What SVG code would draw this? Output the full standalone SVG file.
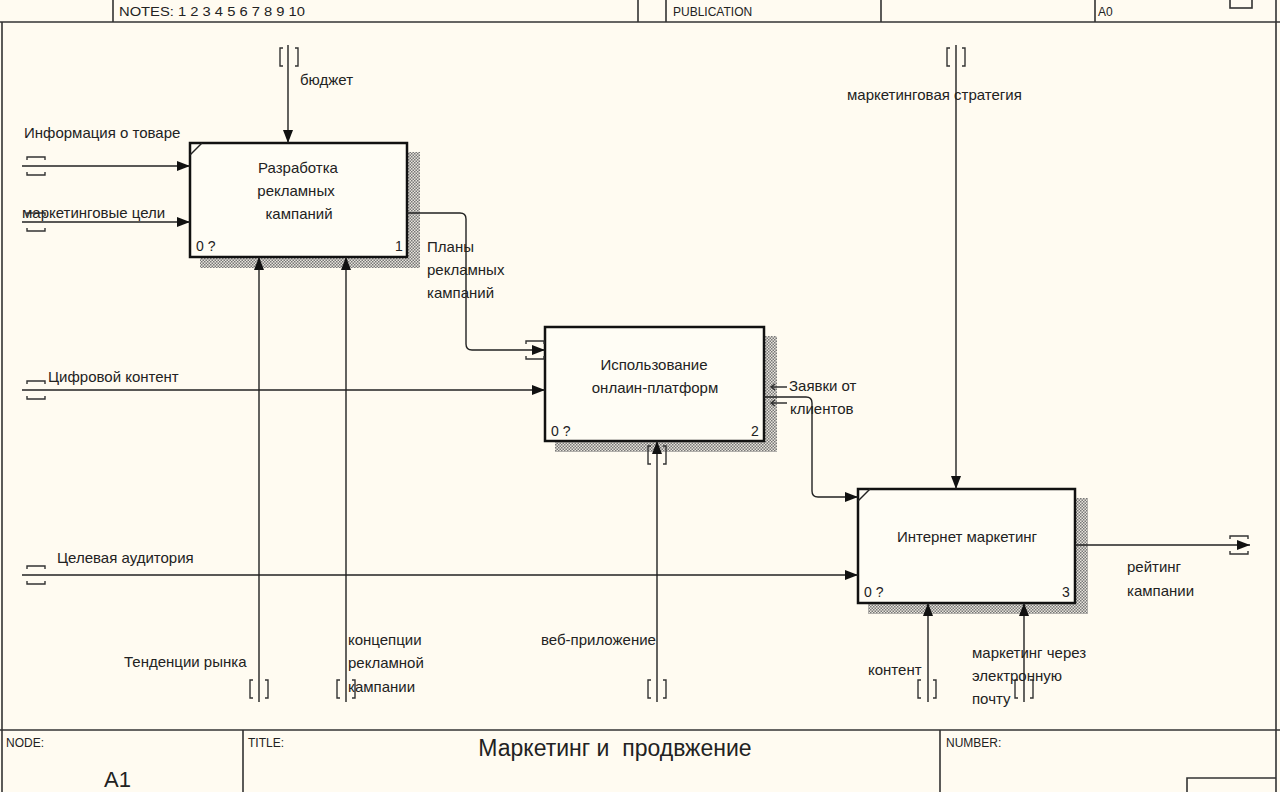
<svg xmlns="http://www.w3.org/2000/svg" width="1280" height="792" viewBox="0 0 1280 792">
<style>
text{font-family:"Liberation Sans",Arial,sans-serif;fill:#222}
.lbl{font-size:15px}
.box{fill:#fffdf5;stroke:#111;stroke-width:2.5}
.sh{fill:url(#hatch)}
.frame{stroke:#333;stroke-width:1.6;fill:none}
.ln{stroke:#222;stroke-width:1.4;fill:none}
.tn{stroke:#333;stroke-width:1.4;fill:none}
.small{font-size:12px}
.num{font-size:14px}
</style>
<defs>
<pattern id="hatch" width="3" height="3" patternUnits="userSpaceOnUse">
<rect width="3" height="3" fill="#e8e4dc"/>
<rect width="1.5" height="1.5" fill="#777"/>
<rect x="1.5" y="1.5" width="1.5" height="1.5" fill="#777"/>
</pattern>
<marker id="arr" viewBox="0 0 13 10" refX="13" refY="5" markerWidth="13" markerHeight="10" markerUnits="userSpaceOnUse" orient="auto">
<path d="M0,0 L13,5 L0,10 Z" fill="#111"/>
</marker>
<path id="th" d="M-9,-6 v-3 h18 v3 M-9,6 v3 h18 v-3"/>
<path id="tv" d="M-6,-9 h-3 v18 h3 M6,-9 h3 v18 h-3"/>
</defs>
<rect width="1280" height="792" fill="#fffbf1"/>
<g id="frame">
<line class="frame" x1="0" y1="22" x2="1280" y2="22"/>
<line class="frame" x1="113" y1="0" x2="113" y2="22"/>
<line class="frame" x1="638" y1="0" x2="638" y2="22"/>
<line class="frame" x1="666" y1="0" x2="666" y2="22"/>
<line class="frame" x1="881" y1="0" x2="881" y2="22"/>
<line class="frame" x1="1095" y1="0" x2="1095" y2="22"/>
<rect class="frame" x="1230" y="-2" width="22" height="10"/>
<line class="frame" x1="2" y1="22" x2="2" y2="792"/>
<line class="frame" x1="1276" y1="0" x2="1276" y2="792"/>
<line class="frame" x1="0" y1="730" x2="1280" y2="730"/>
<line class="frame" x1="243" y1="730" x2="243" y2="792"/>
<line class="frame" x1="940" y1="730" x2="940" y2="792"/>
<polyline class="frame" points="1187,792 1187,778 1276,778"/>
<text class="small" x="119" y="16" textLength="186" lengthAdjust="spacingAndGlyphs">NOTES:  1  2  3  4  5  6  7  8  9  10</text>
<text class="small" x="673" y="16">PUBLICATION</text>
<text class="small" x="1098" y="16">A0</text>
<text class="small" x="6" y="747" font-size="11">NODE:</text>
<text class="small" x="248" y="747" font-size="11">TITLE:</text>
<text class="small" x="946" y="747" font-size="11">NUMBER:</text>
<text x="615" y="756" font-size="23" text-anchor="middle" xml:space="preserve">Маркетинг и  продвжение</text>
<text x="104" y="787" font-size="22">A1</text>
</g>
<g id="node1">
<rect class="sh" x="407" y="152" width="13" height="116"/>
<rect class="sh" x="200" y="257" width="220" height="11"/>
<rect class="box" x="190" y="143" width="217" height="114"/>
<line class="ln" x1="190" y1="155" x2="202" y2="143"/>
<text class="lbl" x="298" y="173" text-anchor="middle">Разработка</text>
<text class="lbl" x="296" y="196" text-anchor="middle">рекламных</text>
<text class="lbl" x="299" y="219" text-anchor="middle">кампаний</text>
<text class="num" x="196" y="251">0 ?</text>
<text class="num" x="395" y="251">1</text>
</g>
<g id="node2">
<rect class="sh" x="764" y="336" width="13" height="116"/>
<rect class="sh" x="555" y="441" width="222" height="11"/>
<rect class="box" x="545" y="327" width="219" height="114"/>
<text class="lbl" x="654" y="370" text-anchor="middle">Использование</text>
<text class="lbl" x="655" y="393" text-anchor="middle">онлаин-платформ</text>
<text class="num" x="551" y="436">0 ?</text>
<text class="num" x="751" y="436">2</text>
</g>
<g id="node3">
<rect class="sh" x="1075" y="498" width="13" height="116"/>
<rect class="sh" x="868" y="603" width="220" height="11"/>
<rect class="box" x="858" y="489" width="217" height="114"/>
<line class="ln" x1="858" y1="501" x2="870" y2="489"/>
<text class="lbl" x="967" y="542" text-anchor="middle">Интернет маркетинг</text>
<text class="num" x="864" y="597">0 ?</text>
<text class="num" x="1062" y="597">3</text>
</g>
<g id="connectors">
<line class="ln" x1="288" y1="45" x2="288" y2="143" marker-end="url(#arr)"/>
<use href="#tv" class="tn" x="289" y="57"/>
<text class="lbl" x="300" y="85">бюджет</text>
<line class="ln" x1="22" y1="166" x2="190" y2="166" marker-end="url(#arr)"/>
<use href="#th" class="tn" x="36" y="166"/>
<text class="lbl" x="24" y="138">Информация о товаре</text>
<line class="ln" x1="22" y1="222" x2="190" y2="222" marker-end="url(#arr)"/>
<use href="#th" class="tn" x="36" y="222"/>
<text class="lbl" x="22" y="218">маркетинговые цели</text>
<line class="ln" x1="259" y1="702" x2="259" y2="257" marker-end="url(#arr)"/>
<use href="#tv" class="tn" x="259" y="689"/>
<text class="lbl" x="124" y="667">Тенденции рынка</text>
<line class="ln" x1="346" y1="702" x2="346" y2="257" marker-end="url(#arr)"/>
<use href="#tv" class="tn" x="346" y="689"/>
<text class="lbl" x="348" y="645">концепции</text>
<text class="lbl" x="348" y="668">рекламной</text>
<text class="lbl" x="348" y="692">кампании</text>
<path class="ln" d="M407,213 H460 Q466,213 466,219 V344 Q466,350 472,350 H545" marker-end="url(#arr)"/>
<use href="#th" class="tn" x="535" y="350"/>
<text class="lbl" x="427" y="252">Планы</text>
<text class="lbl" x="427" y="275">рекламных</text>
<text class="lbl" x="427" y="298">кампаний</text>
<line class="ln" x1="22" y1="390" x2="545" y2="390" marker-end="url(#arr)"/>
<use href="#th" class="tn" x="36" y="390"/>
<text class="lbl" x="48" y="382">Цифровой контент</text>
<path class="ln" d="M764,397 H806 Q812,397 812,403 V491 Q812,497 818,497 H858" marker-end="url(#arr)"/>
<path class="tn" d="M787,387 H772 M775,384 L771,387 L775,390 M787,403 H772 M775,400 L771,403 L775,406" stroke-width="1.2"/>
<text class="lbl" x="789" y="391">Заявки от</text>
<text class="lbl" x="790" y="414">клиентов</text>
<line class="ln" x1="657" y1="702" x2="657" y2="441" marker-end="url(#arr)"/>
<use href="#tv" class="tn" x="657" y="455"/>
<use href="#tv" class="tn" x="657" y="689"/>
<text class="lbl" x="541" y="645">веб-приложение</text>
<line class="ln" x1="956" y1="45" x2="956" y2="489" marker-end="url(#arr)"/>
<use href="#tv" class="tn" x="956" y="57"/>
<text class="lbl" x="847" y="100">маркетинговая стратегия</text>
<line class="ln" x1="22" y1="575" x2="858" y2="575" marker-end="url(#arr)"/>
<use href="#th" class="tn" x="36" y="575"/>
<text class="lbl" x="57" y="563">Целевая аудитория</text>
<line class="ln" x1="1075" y1="545" x2="1250" y2="545" marker-end="url(#arr)"/>
<use href="#th" class="tn" x="1239" y="545"/>
<text class="lbl" x="1127" y="572">рейтинг</text>
<text class="lbl" x="1127" y="596">кампании</text>
<line class="ln" x1="928" y1="702" x2="928" y2="603" marker-end="url(#arr)"/>
<use href="#tv" class="tn" x="927" y="689"/>
<text class="lbl" x="868" y="675">контент</text>
<line class="ln" x1="1024" y1="702" x2="1024" y2="603" marker-end="url(#arr)"/>
<use href="#tv" class="tn" x="1024" y="689"/>
<text class="lbl" x="972" y="658">маркетинг через</text>
<text class="lbl" x="972" y="681">электронную</text>
<text class="lbl" x="972" y="704">почту</text>
</g>
</svg>
